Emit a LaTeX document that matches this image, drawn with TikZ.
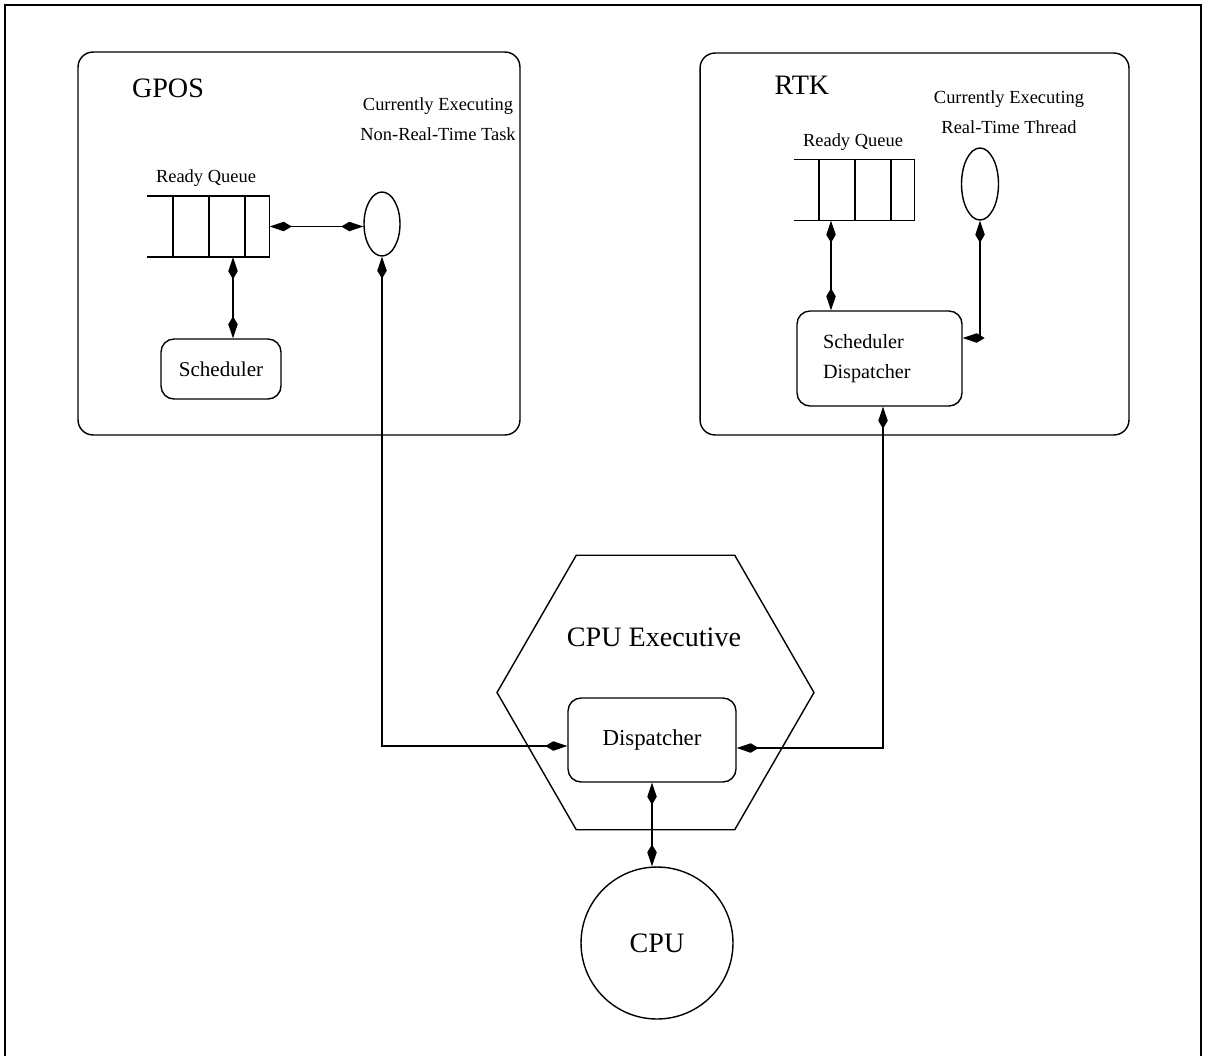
\documentclass[tikz,border=0pt]{standalone}
\usepackage{fontspec}
\setmainfont{Liberation Serif}
\usetikzlibrary{shapes.geometric, arrows.meta}

\begin{document}
\begin{tikzpicture}[x=0.02cm, y=-0.02cm, line width=0.8pt,
    >={Kite[length=4.4mm, width=1.9mm, inset=1.6mm]},
    small/.style={font=\fontsize{10.5}{17}\selectfont, align=center, inner sep=0pt},
    big/.style={font=\fontsize{16}{19}\selectfont, inner sep=0pt},
    panel/.style={draw, rounded corners=0.3cm, inner sep=0pt},
    boxnode/.style={draw, rounded corners=0.26cm, inner sep=0pt, font=\fontsize{12}{17}\selectfont},
    slot/.style={inner sep=0pt, minimum width=#1, minimum height=1.2cm},
    task/.style={draw, ellipse, inner sep=0pt, minimum width=0.72cm}]

    \useasboundingbox (0,0) rectangle (1206,1055);
    \draw (5,5) rectangle (1201,1060);

    \node[panel, minimum width=8.84cm, minimum height=7.66cm] (gpos) at (299,243.5) {};
    \node[big] (gposlabel) at (168,88) {GPOS};

    \node[panel, minimum width=8.58cm, minimum height=7.64cm] (rtk) at (914.5,244) {};
    \node[big] (rtklabel) at (802,85) {RTK};

    \node[small] (gposqlabel) at (206,178) {Ready Queue};
    \node[slot=2.42cm] (gposq) at (208.5,226.5) {};
    \draw (gposq.north west) -- (gposq.north east) -- (gposq.south east) -- (gposq.south west);
    \foreach \x in {173,209,245} \draw (\x,196.5) -- (\x,256.5);

    \node[task, minimum height=1.28cm] (gpostask) at (382,224) {};
    \node[small] (gpostasklabel) at (438,119) {Currently Executing\\Non-Real-Time Task};

    \node[boxnode, minimum width=2.4cm, minimum height=1.2cm] (gpossched) at (221,369) {Scheduler};

    \node[small] (rtkqlabel) at (853,142) {Ready Queue};
    \node[slot=2.38cm] (rtkq) at (854.5,190) {};
    \draw (rtkq.north west) -- (rtkq.north east) -- (rtkq.south east) -- (rtkq.south west);
    \foreach \x in {819,855,891} \draw (\x,160) -- (\x,220);

    \node[task, minimum height=1.44cm, minimum width=0.74cm] (rtkthread) at (980,184) {};
    \node[small] (rtkthreadlabel) at (1009,112) {Currently Executing\\Real-Time Thread};

    \node[boxnode, minimum width=3.3cm, minimum height=1.9cm, text width=2.26cm, align=left,
          font=\fontsize{11.5}{17}\selectfont] (rtksched) at (879.5,358.5) {Scheduler\\Dispatcher};

    \node[draw, regular polygon, regular polygon sides=6, minimum size=6.34cm, inner sep=0pt] (cpuexec) at (655.5,692.5) {};
    \node[big] (cpuexeclabel) at (654,637) {CPU Executive};

    \node[boxnode, minimum width=3.36cm, minimum height=1.68cm, font=\fontsize{13}{16}\selectfont] (disp) at (652,740) {Dispatcher};

    \node[big, draw, circle, minimum size=3.04cm] (cpu) at (657,943) {CPU};

    \draw[<->] (gposq.east) -- (gposq.east -| gpostask.west);
    \draw[<->] ([xshift=4.9mm]gposq.south) -- ([xshift=4.9mm]gposq.south |- gpossched.north);
    \draw[<->] (gpostask.south) |- ([yshift=-1.2mm]disp.west);

    \draw[<->] ([xshift=-4.7mm]rtkq.south) -- ([xshift=-4.7mm]rtkq.south |- rtksched.north);
    \draw[<->] (rtkthread.south) |- ([yshift=4.1mm]rtksched.east);
    \draw[<->] ([yshift=-1.6mm]disp.east) -| ([xshift=0.7mm]rtksched.south);

    \draw[<->] (disp.south) -- (disp.south |- cpu.north);
\end{tikzpicture}
\end{document}
